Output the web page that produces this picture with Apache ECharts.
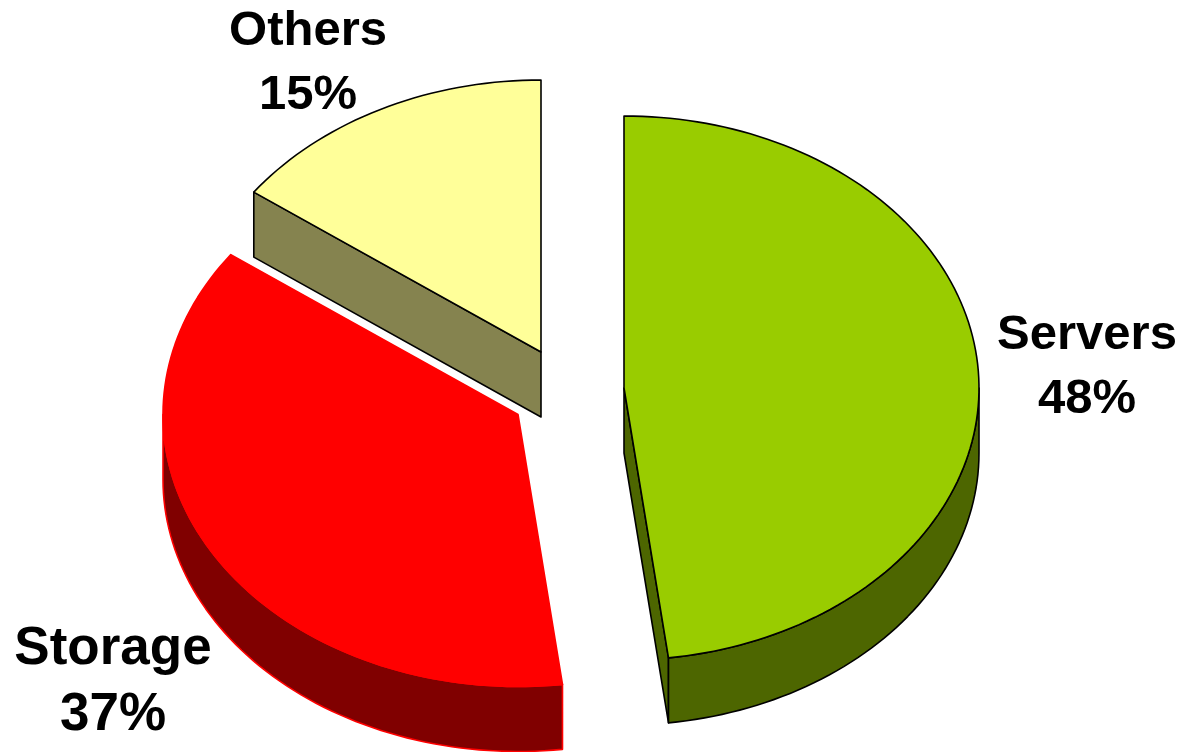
<!DOCTYPE html>
<html>
<head>
<meta charset="utf-8">
<style>html,body{margin:0;padding:0;background:#fff}#chart{width:1182px;height:752px}</style>
<script src="https://cdn.jsdelivr.net/npm/echarts@6/dist/echarts.min.js"></script>
</head>
<body>
<div id="chart"></div>
<script>
// Data
const categories = ['Servers', 'Storage', 'Others'];
const shares = [48, 37, 15];

// Styling and layout (not data)
const topColors = ['#99CC00', '#FF0000', '#FFFF99'];
const sideColors = ['#4D6600', '#800000', '#85834F'];
const edgeColors = ['#000000', '#FF0000', '#000000'];
const apexes = [[624, 388], [518, 414.5], [541, 352]];
const labelAnchors = [[1087, 367], [113, 682], [308, 63]];
const labelSizes = [49, 53, 49];
const labelLeading = [64, 66, 64];
const RX = 355, RY = 272, DEPTH = 65;

const total = shares.reduce((a, b) => a + b, 0);

function rimPoint(c, deg, dy) {
  const t = deg * Math.PI / 180;
  return [c[0] + RX * Math.sin(t), c[1] - RY * Math.cos(t) + (dy || 0)];
}
function arc(c, a0, a1, dy) {
  const pts = [];
  const n = Math.max(2, Math.ceil(Math.abs(a1 - a0) / 1.5));
  for (let i = 0; i <= n; i++) pts.push(rimPoint(c, a0 + (a1 - a0) * i / n, dy));
  return pts;
}

function renderItem(params, api) {
  const i = params.dataIndex;
  const value = api.value(0);
  let before = 0;
  for (let k = 0; k < i; k++) before += shares[k];
  const a0 = before / total * 360;
  const a1 = a0 + value / total * 360;
  const c = apexes[i];
  const style = fill => ({ fill, stroke: edgeColors[i], lineWidth: 1.6, lineJoin: 'round' });
  const children = [];
  const poly = (points, fill) => children.push({
    type: 'polygon', shape: { points }, style: style(fill)
  });
  // cut faces that look towards the viewer
  if (-Math.sin(a0 * Math.PI / 180) > 1e-6) {
    const p = rimPoint(c, a0);
    poly([c, p, [p[0], p[1] + DEPTH], [c[0], c[1] + DEPTH]], sideColors[i]);
  }
  if (Math.sin(a1 * Math.PI / 180) > 1e-6) {
    const p = rimPoint(c, a1);
    poly([c, p, [p[0], p[1] + DEPTH], [c[0], c[1] + DEPTH]], sideColors[i]);
  }
  // outer wall: only the lower half of the rim is visible
  const w0 = Math.max(a0, 90), w1 = Math.min(a1, 270);
  if (w1 > w0) {
    poly(arc(c, w0, w1, 0).concat(arc(c, w1, w0, DEPTH)), sideColors[i]);
  }
  // top face
  poly([c].concat(arc(c, a0, a1, 0)), topColors[i]);
  // label
  children.push({
    type: 'text',
    style: {
      x: labelAnchors[i][0], y: labelAnchors[i][1],
      text: categories[i] + '\n' + value + '%',
      fill: '#000', align: 'center', verticalAlign: 'middle',
      font: 'bold ' + labelSizes[i] + 'px "Liberation Sans", Arial, sans-serif',
      lineHeight: labelLeading[i]
    }
  });
  return { type: 'group', children };
}

const chart = echarts.init(document.getElementById('chart'));
chart.setOption({
  backgroundColor: '#ffffff',
  animation: false,
  series: [{
    type: 'custom',
    coordinateSystem: 'none',
    silent: true,
    renderItem,
    data: shares.map((v, i) => ({ name: categories[i], value: [v] }))
  }]
});
</script>
</body>
</html>
